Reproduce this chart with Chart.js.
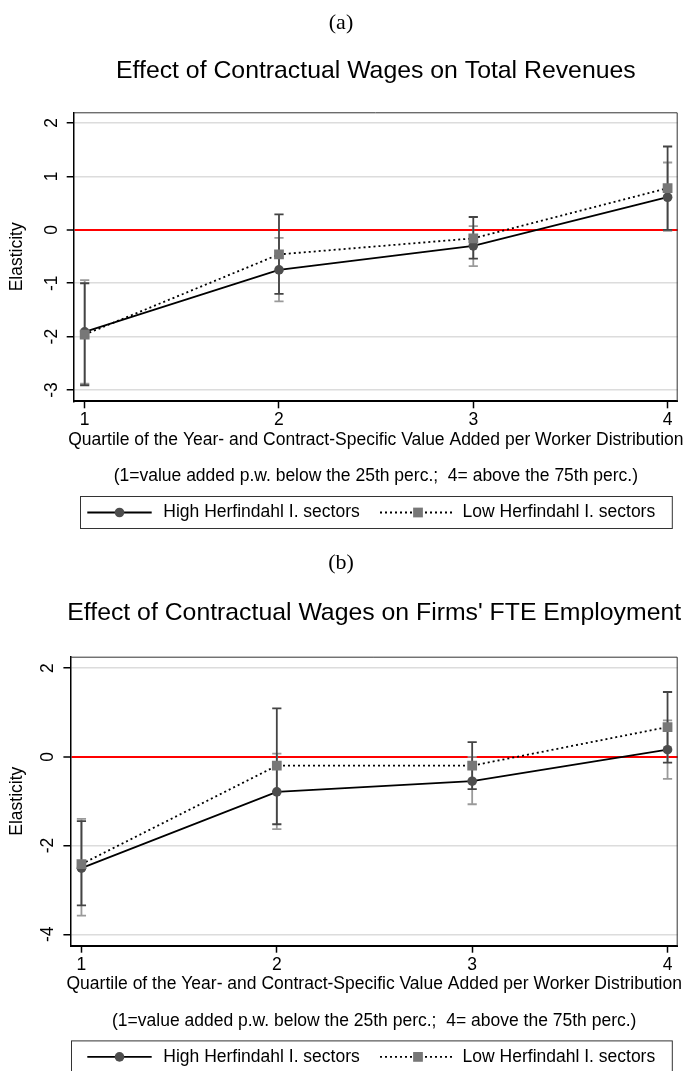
<!DOCTYPE html>
<html lang="en">
<head>
<meta charset="UTF-8" />
<meta name="viewport" content="width=device-width, initial-scale=1.0" />
<title>Effect of Contractual Wages</title>
<script src="https://cdn.jsdelivr.net/npm/chart.js@4.4.0/dist/chart.umd.min.js"></script>
<style>
  body { margin: 0; background: #fff; }
  .panel { position: absolute; left: 0; width: 691px; }
</style>
</head>
<body>
<div class="panel" style="top:0"><canvas id="chartA" width="691" height="540"></canvas></div>
<div class="panel" style="top:540px"><canvas id="chartB" width="691" height="531"></canvas></div>

<script>
// x positions (quartiles) and their tick labels
const quartiles = [1, 2, 3, 4];
const xTicks = [1, 2, 3, 4];

// (a) total revenues
const revHigh = [-1.91, -0.75, -0.30, 0.61];
const revLow = [-1.96, -0.46, -0.16, 0.78];
const revHighLo = [-2.88, -1.34, -0.68, -0.02];   // light grey caps
const revHighHi = [-0.94, -0.15, 0.07, 1.26];
const revLowLo = [-2.91, -1.20, -0.54, 0.00];     // dark caps
const revLowHi = [-1.00, 0.29, 0.24, 1.56];
const revTicks = [-3, -2, -1, 0, 1, 2];

// (b) FTE employment
const empHigh = [-2.51, -0.79, -0.55, 0.16];
const empLow = [-2.42, -0.20, -0.20, 0.67];
const empHighLo = [-3.58, -1.63, -1.07, -0.50];
const empHighHi = [-1.40, 0.07, 0.00, 0.82];
const empLowLo = [-3.35, -1.52, -0.73, -0.13];
const empLowHi = [-1.45, 1.09, 0.33, 1.46];
const empTicks = [-4, -2, 0, 2];

const seriesNames = ['High Herfindahl I. sectors', 'Low Herfindahl I. sectors'];
const xTitle = 'Quartile of the Year- and Contract-Specific Value Added per Worker Distribution';
const noteText = '(1=value added p.w. below the 25th perc.;  4= above the 75th perc.)';

const SANS = "'Liberation Sans', Arial, Helvetica, sans-serif";
const SERIF = "'Liberation Serif', 'Times New Roman', serif";
Chart.defaults.font.family = SANS;
Chart.defaults.color = '#000';

function txt(ctx, s, x, y, font, align) {
  ctx.save();
  ctx.font = font;
  ctx.fillStyle = '#000';
  ctx.textAlign = align || 'center';
  ctx.textBaseline = 'middle';
  ctx.fillText(s, x, y);
  ctx.restore();
}

// error bars, frame and the text around each panel
const panelPlugin = {
  id: 'panel',
  beforeDatasetsDraw(chart, args, o) {
    const ctx = chart.ctx, xs = chart.scales.x, ys = chart.scales.y;
    o.bars.forEach(b => {
      ctx.save();
      ctx.strokeStyle = b.color;
      ctx.lineWidth = 1.8;
      quartiles.forEach((q, i) => {
        const x = xs.getPixelForValue(q);
        const y1 = ys.getPixelForValue(b.lo[i]), y2 = ys.getPixelForValue(b.hi[i]);
        ctx.beginPath();
        ctx.moveTo(x, y1); ctx.lineTo(x, y2);
        ctx.moveTo(x - 4.6, y1); ctx.lineTo(x + 4.6, y1);
        ctx.moveTo(x - 4.6, y2); ctx.lineTo(x + 4.6, y2);
        ctx.stroke();
      });
      ctx.restore();
    });
  },
  afterDraw(chart, args, o) {
    const ctx = chart.ctx, a = chart.chartArea;
    const cx = (a.left + a.right) / 2;
    // top / right frame
    ctx.save();
    ctx.strokeStyle = '#333';
    ctx.lineWidth = 1;
    ctx.beginPath();
    ctx.moveTo(a.left, a.top + 0.5); ctx.lineTo(a.right - 0.5, a.top + 0.5); ctx.lineTo(a.right - 0.5, a.bottom);
    ctx.stroke();
    ctx.restore();

    txt(ctx, o.label, 341, 23.5, '22px ' + SERIF);
    txt(ctx, o.title, cx, o.titleY, '24.8px ' + SANS);
    txt(ctx, xTitle, cx, a.bottom + 38.7, '17.5px ' + SANS);
    txt(ctx, noteText, cx, a.bottom + 75.2, '17.5px ' + SANS);

    // legend
    const top = a.bottom + 94.7, ky = top + 16.5;
    ctx.save();
    ctx.strokeStyle = '#333';
    ctx.lineWidth = 1;
    ctx.strokeRect(o.keyLeft + 0.5, top + 0.5, 671.8 - o.keyLeft, 32);
    ctx.strokeStyle = '#000';
    ctx.lineWidth = 1.8;
    ctx.beginPath(); ctx.moveTo(87.3, ky); ctx.lineTo(151.7, ky); ctx.stroke();
    ctx.setLineDash([2, 3]);
    ctx.beginPath(); ctx.moveTo(380, ky); ctx.lineTo(455, ky); ctx.stroke();
    ctx.setLineDash([]);
    ctx.fillStyle = '#4d4d4d';
    Chart.helpers.drawPoint(ctx, {pointStyle: 'circle', radius: 4.8, borderWidth: 0}, 119.5, ky);
    ctx.fillStyle = '#777';
    Chart.helpers.drawPoint(ctx, {pointStyle: 'rect', radius: 6.9, borderWidth: 0}, 418, ky);
    ctx.restore();
    txt(ctx, seriesNames[0], 163.3, ky, '17.5px ' + SANS, 'left');
    txt(ctx, seriesNames[1], 462.6, ky, '17.5px ' + SANS, 'left');
  }
};

function makePanel(id, p) {
  const H = document.getElementById(id).height;
  return new Chart(document.getElementById(id), {
    type: 'line',
    data: {
      datasets: [
        {
          label: seriesNames[0],
          data: quartiles.map((q, i) => ({x: q, y: p.high[i]})),
          borderColor: '#000', borderWidth: 1.8,
          pointStyle: 'circle', pointRadius: 4.8, pointBorderWidth: 0,
          pointBackgroundColor: '#4d4d4d', order: 1
        },
        {
          label: seriesNames[1],
          data: quartiles.map((q, i) => ({x: q, y: p.low[i]})),
          borderColor: '#000', borderWidth: 1.8, borderDash: [2, 3],
          pointStyle: 'rect', pointRadius: 6.9, pointBorderWidth: 0,
          pointBackgroundColor: '#777', order: 0
        }
      ]
    },
    options: {
      responsive: false,
      animation: false,
      devicePixelRatio: 1,
      layout: {padding: {left: 0, top: p.top, right: 691 - 677.7, bottom: H - p.bottom - 30}},
      plugins: {
        legend: {display: false},
        tooltip: {enabled: false},
        panel: {
          label: p.label, title: p.title, titleY: p.titleY, keyLeft: p.keyLeft,
          bars: [
            {lo: p.highLo, hi: p.highHi, color: '#9a9a9a'},
            {lo: p.lowLo, hi: p.lowHi, color: '#444'}
          ]
        }
      },
      scales: {
        x: {
          type: 'linear', min: 0.945, max: 4.052,
          afterBuildTicks: s => { s.ticks = xTicks.map(v => ({value: v})); },
          afterFit: s => { s.height = 30; },
          grid: {drawOnChartArea: false, drawTicks: true, tickLength: 7, tickColor: '#000', tickWidth: 1.5},
          border: {color: '#000', width: 2},
          ticks: {font: {size: 17.5}, color: '#000', padding: 1.5, maxRotation: 0}
        },
        y: {
          type: 'linear', min: p.yMin, max: p.yMax,
          afterBuildTicks: s => { s.ticks = p.ticks.map(v => ({value: v})); },
          afterFit: s => { s.width = p.left; },
          grid: {
            color: c => (c.tick && c.tick.value === 0) ? '#ff0000' : '#dcdcdc',
            lineWidth: c => (c.tick && c.tick.value === 0) ? 2 : 1.5,
            drawTicks: true, tickLength: 7.3, tickColor: '#000', tickWidth: 1.5
          },
          border: {color: '#000', width: 1.5},
          ticks: {font: {size: 17.5}, color: '#000', minRotation: 90, maxRotation: 90,
                  crossAlign: 'center', padding: p.tickPad},
          title: {display: true, text: 'Elasticity', font: {size: 17.5}, color: '#000',
                  padding: {top: 7, bottom: 0}}
        }
      }
    },
    plugins: [panelPlugin]
  });
}

makePanel('chartA', {
  label: '(a)', title: 'Effect of Contractual Wages on Total Revenues', titleY: 71,
  high: revHigh, low: revLow, highLo: revHighLo, highHi: revHighHi, lowLo: revLowLo, lowHi: revLowHi,
  ticks: revTicks, yMin: -3.21, yMax: 2.2,
  top: 112.3, bottom: 401.3, left: 74, tickPad: 6.6, keyLeft: 80
});

makePanel('chartB', {
  label: '(b)', title: "Effect of Contractual Wages on Firms' FTE Employment", titleY: 72.7,
  high: empHigh, low: empLow, highLo: empHighLo, highHi: empHighHi, lowLo: empLowLo, lowHi: empLowHi,
  ticks: empTicks, yMin: -4.257, yMax: 2.255,
  top: 116.7, bottom: 405.7, left: 70.7, tickPad: 7.3, keyLeft: 71
});
</script>
</body>
</html>
